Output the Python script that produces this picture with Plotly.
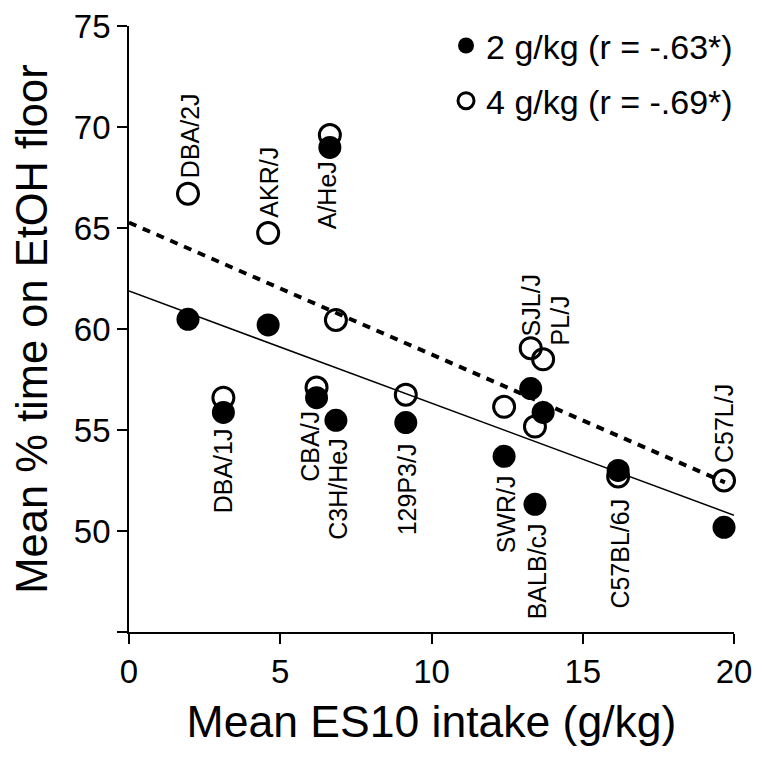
import plotly.graph_objects as go

# ---- data ----
strains = ["DBA/2J", "AKR/J", "A/HeJ", "DBA/1J", "CBA/J", "C3H/HeJ", "129P3/J",
           "SWR/J", "BALB/cJ", "SJL/J", "PL/J", "C57BL/6J", "C57L/J"]
es10_intake = [1.95, 4.6, 6.64, 3.12, 6.2, 6.84, 9.15, 12.4, 13.42, 13.28, 13.69, 16.17, 19.67]
floor_2gkg = [60.48, 60.2, 68.99, 55.87, 56.6, 55.48, 55.37, 53.7, 51.32, 57.05, 55.87, 53.0, 50.18]
floor_4gkg = [66.7, 64.75, 69.6, 56.6, 57.1, 60.45, 56.75, 56.15, 55.17, 59.05, 58.5, 52.7, 52.5]

# regression lines (intercept, slope, x extent)
fit_2gkg = {"intercept": 61.88, "slope": -0.555, "x": [0, 20]}
fit_4gkg = {"intercept": 65.27, "slope": -0.653, "x": [0, 19.7]}

legend_2gkg = "2 g/kg (r = -.63*)"
legend_4gkg = "4 g/kg (r = -.69*)"

x_ticks = [0, 5, 10, 15, 20]
y_ticks = [45, 50, 55, 60, 65, 70, 75]
y_ticktext = ["", "50", "55", "60", "65", "70", "75"]

# label placement (style): which series, side, pixel gap, pixel x offset
label_style = {
    "DBA/2J": ("4", "above", 15, 2),
    "AKR/J": ("4", "above", 14, 0),
    "A/HeJ": ("2", "below", 13, -2),
    "DBA/1J": ("2", "below", 15, 0),
    "CBA/J": ("2", "below", 12, -6),
    "C3H/HeJ": ("2", "below", 17, 2),
    "129P3/J": ("2", "below", 20, 1),
    "SWR/J": ("2", "below", 18, 2),
    "BALB/cJ": ("2", "below", 18, 2),
    "SJL/J": ("4", "above", 11, 0),
    "PL/J": ("4", "above", 13, 17),
    "C57BL/6J": ("4", "below", 21, 2),
    "C57L/J": ("4", "above", 16, 0),
}

FONT = "Liberation Sans, Arial, Helvetica, sans-serif"

fig = go.Figure()

def line_y(fit):
    return [fit["intercept"] + fit["slope"] * x for x in fit["x"]]

fig.add_trace(go.Scatter(x=fit_4gkg["x"], y=line_y(fit_4gkg), mode="lines",
                         line=dict(color="black", width=4, dash="8px,7px"),
                         showlegend=False, hoverinfo="skip"))
fig.add_trace(go.Scatter(x=fit_2gkg["x"], y=line_y(fit_2gkg), mode="lines",
                         line=dict(color="black", width=1.5),
                         showlegend=False, hoverinfo="skip"))

fig.add_trace(go.Scatter(x=es10_intake, y=floor_4gkg, mode="markers", name=legend_4gkg,
                         marker=dict(symbol="circle-open", size=21, color="black",
                                     line=dict(width=3, color="black")),
                         cliponaxis=False, legendrank=2, legendgroup="b", text=strains))
fig.add_trace(go.Scatter(x=es10_intake, y=floor_2gkg, mode="markers", name=legend_2gkg,
                         marker=dict(symbol="circle", size=23, color="black"),
                         cliponaxis=False, legendrank=1, legendgroup="a", text=strains))

for i, s in enumerate(strains):
    series, side, gap, dx = label_style[s]
    yv = floor_2gkg[i] if series == "2" else floor_4gkg[i]
    fig.add_annotation(x=es10_intake[i], y=yv, text=s, showarrow=False, textangle=-90,
                       xanchor="center", yanchor="bottom" if side == "above" else "top",
                       yshift=gap if side == "above" else -gap, xshift=dx,
                       font=dict(family=FONT, size=25, color="black"), borderpad=0)

fig.update_layout(
    width=748, height=745,
    margin=dict(l=121, r=22, t=18, b=121, autoexpand=False),
    plot_bgcolor="white", paper_bgcolor="white",
    font=dict(family=FONT, color="black"),
    showlegend=True,
    legend=dict(x=0.524, y=1.015, xanchor="left", yanchor="top",
                font=dict(family=FONT, size=34, color="black"),
                bgcolor="rgba(0,0,0,0)", traceorder="grouped", tracegroupgap=8,
                itemsizing="trace"),
    xaxis=dict(range=[0, 20], tickvals=x_ticks, showgrid=False, zeroline=False,
               showline=True, linecolor="black", linewidth=1.7,
               ticks="outside", ticklen=10, tickwidth=1.7, tickcolor="black",
               ticklabeloverflow="allow",
               tickfont=dict(family=FONT, size=33, color="black"),
               title=dict(text="Mean ES10 intake (g/kg)", standoff=16,
                          font=dict(family=FONT, size=44.5, color="black"))),
    yaxis=dict(range=[45, 75], tickvals=y_ticks, ticktext=y_ticktext, showgrid=False,
               zeroline=False, showline=True, linecolor="black", linewidth=1.7,
               ticks="outside", ticklen=10, tickwidth=1.7, tickcolor="black",
               ticklabeloverflow="allow",
               tickfont=dict(family=FONT, size=33, color="black"),
               title=dict(text="Mean % time on EtOH floor", standoff=16,
                          font=dict(family=FONT, size=43.5, color="black"))),
)

fig.write_html("out.html")
